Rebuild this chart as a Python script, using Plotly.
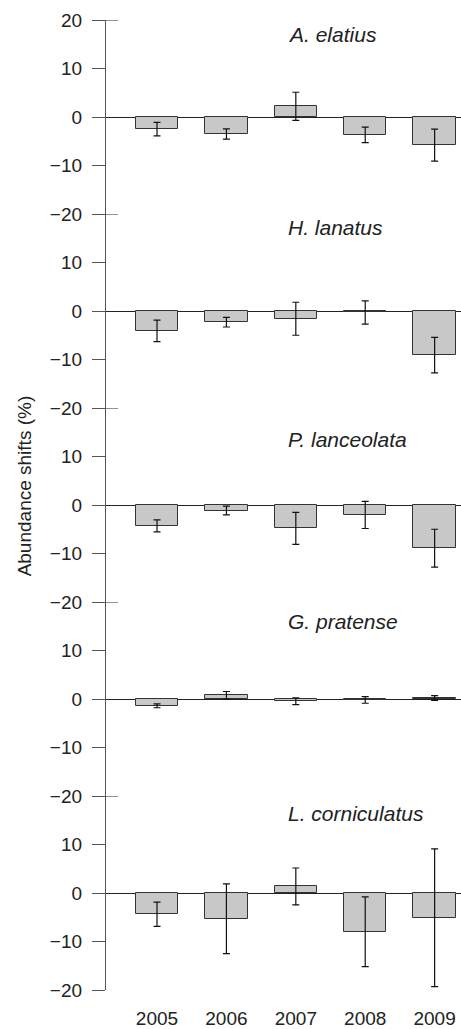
import plotly.graph_objects as go
from plotly.subplots import make_subplots

years = [2005, 2006, 2007, 2008, 2009]
species = ["A. elatius", "H. lanatus", "P. lanceolata", "G. pratense", "L. corniculatus"]

a_elatius = [-2.5, -3.5, 2.2, -3.7, -5.8]
a_elatius_se = [1.4, 1.05, 2.9, 1.6, 3.3]
h_lanatus = [-4.1, -2.3, -1.6, -0.3, -9.1]
h_lanatus_se = [2.2, 1.0, 3.4, 2.4, 3.65]
p_lanceolata = [-4.3, -1.15, -4.8, -2.05, -8.9]
p_lanceolata_se = [1.25, 0.9, 3.3, 2.8, 3.9]
g_pratense = [-1.4, 0.75, -0.45, -0.2, 0.2]
g_pratense_se = [0.4, 0.8, 0.7, 0.68, 0.5]
l_corniculatus = [-4.4, -5.3, 1.35, -8.0, -5.1]
l_corniculatus_se = [2.5, 7.2, 3.8, 7.2, 14.2]

values = [a_elatius, h_lanatus, p_lanceolata, g_pratense, l_corniculatus]
errors = [a_elatius_se, h_lanatus_se, p_lanceolata_se, g_pratense_se, l_corniculatus_se]
label_y = [17.0, 17.3, 13.5, 16.0, 16.4]

W, H = 461, 1029
ML, MR, MT, MB = 106, 0, 19.5, 33
plot_w = W - ML - MR

FONT = "Liberation Sans, Arial, sans-serif"
AXIS_C = "#555555"

fig = make_subplots(rows=5, cols=1, shared_xaxes=True, vertical_spacing=0)

for i in range(5):
    fig.add_trace(go.Bar(
        x=years, y=values[i], width=0.612,
        marker=dict(color="#c8c8c8", line=dict(color="#333333", width=1)),
        error_y=dict(type="data", array=errors[i], color="#111111", thickness=1.2, width=3.5),
        showlegend=False,
    ), row=i + 1, col=1)

    if i == 0:
        tv = [20, 10, 0, -10, -20]
        tt = ["20", "10", "0", "\u221210", "\u221220"]
    else:
        tv = [10, 0, -10, -20]
        tt = ["10", "0", "\u221210", "\u221220"]
    fig.update_yaxes(
        range=[-20, 20], tickvals=tv, ticktext=tt,
        showline=True, linecolor=AXIS_C, linewidth=1.3,
        ticks="outside", ticklen=13, tickcolor=AXIS_C, tickwidth=1.3,
        ticklabelstandoff=6,
        zeroline=True, zerolinecolor="#222222", zerolinewidth=1,
        showgrid=False, tickfont=dict(family=FONT, size=19, color="#222222"),
        row=i + 1, col=1,
    )
    yref = "y" if i == 0 else f"y{i + 1}"
    fig.add_shape(type="line", xref="x domain", yref=yref,
                  x0=0, x1=12 / plot_w, y0=20, y1=20,
                  line=dict(color=AXIS_C, width=1.3))
    fig.add_annotation(text=f"<i>{species[i]}</i>", xref="x domain", yref=yref,
                       x=0.507, y=label_y[i], xanchor="left", yanchor="middle",
                       showarrow=False, font=dict(family=FONT, size=21, color="#222222"))

fig.update_xaxes(range=[2004.265, 2009.38], tickvals=years, ticktext=[str(y) for y in years],
                 showline=False, showgrid=False, zeroline=False, ticks="",
                 tickfont=dict(family=FONT, size=19, color="#222222"))
fig.update_xaxes(ticklabelstandoff=15, row=5, col=1)

fig.add_annotation(text="Abundance shifts (%)", xref="paper", yref="paper",
                   x=(24 - ML) / plot_w, y=(H - MB - 489) / (H - MT - MB),
                   textangle=-90, showarrow=False, xanchor="center", yanchor="middle",
                   font=dict(family=FONT, size=19, color="#222222"))

fig.update_layout(
    width=W, height=H,
    margin=dict(l=ML, r=MR, t=MT, b=MB, pad=0),
    paper_bgcolor="white", plot_bgcolor="white",
    bargap=0,
)

fig.write_html("out.html", config={"displayModeBar": False},
               post_script="document.body.style.margin='0';document.body.style.overflow='hidden';")
